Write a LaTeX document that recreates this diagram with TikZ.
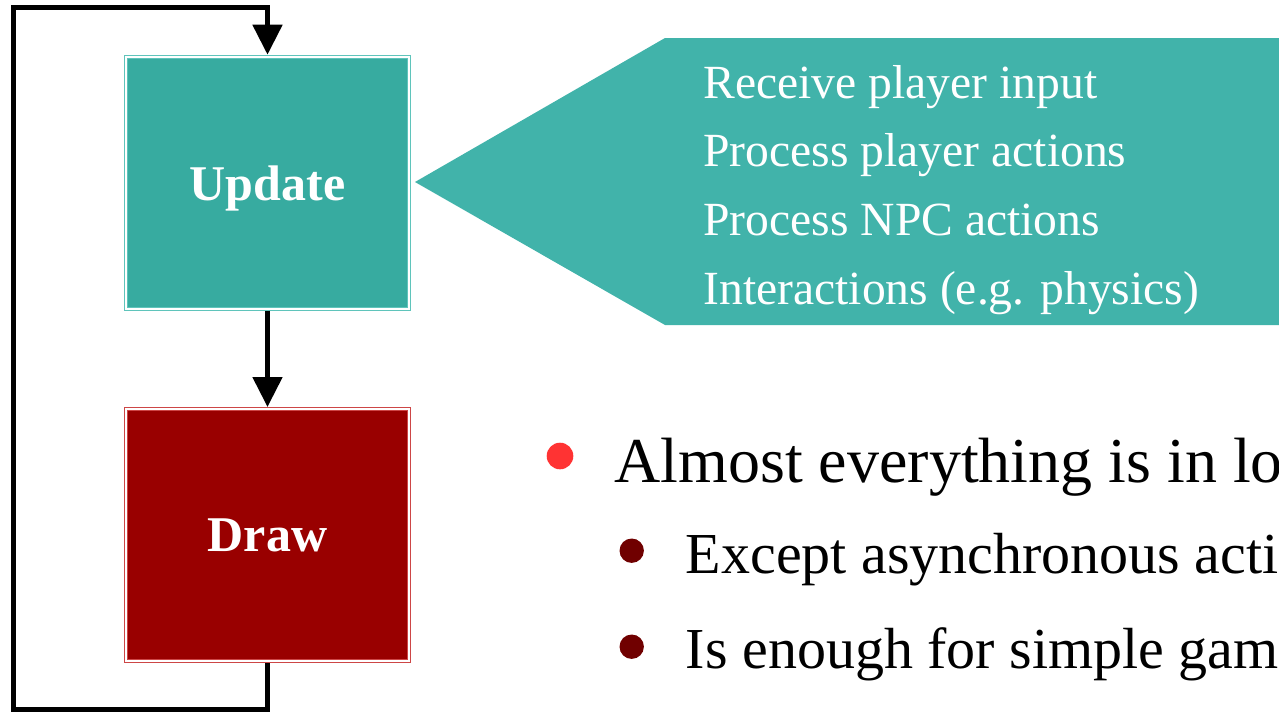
\documentclass[tikz,border=0pt]{standalone}
\usepackage{fontspec}
\setmainfont{Liberation Serif}
\usetikzlibrary{arrows.meta}
\definecolor{tealfill}{RGB}{55,171,160}
\definecolor{tealedge}{RGB}{95,196,187}
\definecolor{calloutfill}{RGB}{65,179,170}
\definecolor{redfill}{RGB}{153,0,0}
\definecolor{rededge}{RGB}{205,70,70}
\definecolor{bulletmain}{RGB}{255,51,51}
\definecolor{bulletsub}{RGB}{112,0,0}
\begin{document}
\begin{tikzpicture}[x=0.5pt,y=-0.5pt,
  stepbox/.style={minimum width=141.5pt, minimum height=126pt, inner sep=0pt, outer sep=1pt,
    line width=0.5pt, double=white, double distance=1pt, text=white,
    font=\fontsize{25}{30}\selectfont\bfseries, text depth=0pt},
  flow/.style={line width=2.5pt, -{Triangle[length=15pt,width=14.5pt]}},
  callouttext/.style={anchor=base west, text=white, inner sep=0pt, font=\fontsize{23.8}{28}\selectfont},
  maintext/.style={anchor=base west, inner sep=0pt, font=\fontsize{32}{38}\selectfont},
  subtext/.style={anchor=base west, inner sep=0pt, font=\fontsize{29}{34}\selectfont},
  dot/.style={circle, inner sep=0pt, minimum size=#1}
]
\useasboundingbox (0,0) rectangle (1279,712);
\clip (0,0) rectangle (1279,712);

% callout shape
\fill[calloutfill] (415,182) -- (665,38) -- (1300,38) -- (1300,325) -- (665,325) -- cycle;

% boxes
\node[stepbox, fill=tealfill, draw=tealedge] (u) at (267.5,182.7) {Update};
\node[stepbox, fill=redfill, draw=rededge] (d) at (267.5,535) {Draw};

% connectors
\coordinate (bl) at (13.5,709.5);
\coordinate (tl) at (13.5,7);
\draw[flow] (u.south) -- (d.north);
\draw[flow] (d.south) |- (bl) -- (tl) -| (u.north);

% callout text
\node[callouttext] (t1) at (703,98) {Receive player input};
\node[callouttext] (t2) at (703,166.5) {Process player actions};
\node[callouttext] (t3) at (703,235.5) {Process NPC actions};
\node[callouttext] (t4) at (703,304) {Interactions (e.g. physics)};

% bullets
\node[dot=13.3pt, fill=bulletmain] (b0) at (560,456) {};
\node[maintext] (m0) at (614,482) {Almost everything is in loop};
\node[dot=12.2pt, fill=bulletsub] (b1) at (631.7,550.7) {};
\node[subtext] (s1) at (685.5,573) {Except asynchronous actions};
\node[dot=12.2pt, fill=bulletsub] (b2) at (631.7,646.7) {};
\node[subtext] (s2) at (685.5,668) {Is enough for simple games};
\end{tikzpicture}
\end{document}
